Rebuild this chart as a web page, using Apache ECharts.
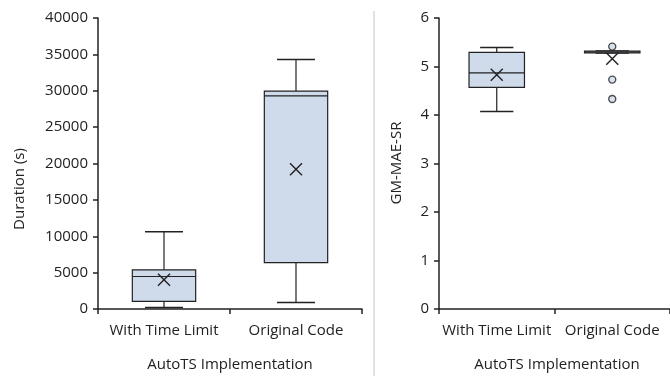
<!DOCTYPE html>
<html>
<head>
<meta charset="utf-8">
<script src="https://cdn.jsdelivr.net/npm/echarts@6/dist/echarts.min.js"></script>
<style>
  html, body { margin: 0; padding: 0; background: #fff; }
  #chart { width: 670px; height: 376px; }
</style>
</head>
<body>
<div id="chart"></div>
<script>
const categories = ['With Time Limit', 'Original Code']

// [min, Q1, median, Q3, max, mean] per category
const durationBoxes = [
  [220, 1040, 4470, 5380, 10630, 4010],
  [900, 6380, 29300, 29950, 34300, 19220]
]
const durationOutliers = [[], []]

const errorBoxes = [
  [4.07, 4.57, 4.87, 5.29, 5.39, 4.83],
  [5.28, 5.28, 5.30, 5.32, 5.32, 5.16]
]
const errorOutliers = [[], [5.41, 4.73, 4.33]]

const durationTicks = { min: 0, max: 40000, interval: 5000 }
const errorTicks = { min: 0, max: 6, interval: 1 }

const font = 'Open Sans'
const ink = '#222'
const boxFill = '#cfdbeb'

const chart = echarts.init(document.getElementById('chart'))

const boxItems = (boxes) => boxes.map((b, i) => [i].concat(b))
const outlierItems = (outs) => {
  const res = []
  outs.forEach((vals, i) => vals.forEach(v => res.push([i, v])))
  return res
}

// draws box, whiskers, median and mean marker through the axis scales
const renderBox = (params, api) => {
  const x = api.value(0)
  const vMin = api.coord([x, api.value(1)])
  const vQ1 = api.coord([x, api.value(2)])
  const vMed = api.coord([x, api.value(3)])
  const vQ3 = api.coord([x, api.value(4)])
  const vMax = api.coord([x, api.value(5)])
  const vMean = api.coord([x, api.value(6)])
  const band = api.size([1, 0])[0]
  const w = band * 0.48
  const cap = w * 0.3
  const cx = vMed[0]
  const line = (x1, y1, x2, y2, lw) => ({
    type: 'line',
    shape: { x1, y1, x2, y2 },
    style: { stroke: ink, lineWidth: lw || 1.2 }
  })
  const children = [
    line(cx, vMax[1], cx, vQ3[1]),
    line(cx - cap, vMax[1], cx + cap, vMax[1], 1.5),
    line(cx, vMin[1], cx, vQ1[1]),
    line(cx - cap, vMin[1], cx + cap, vMin[1], 1.5),
    {
      type: 'rect',
      shape: { x: cx - w / 2, y: vQ3[1], width: w, height: vQ1[1] - vQ3[1] },
      style: { fill: boxFill, stroke: ink, lineWidth: 1.2 }
    },
    line(cx - w / 2, vMed[1], cx + w / 2, vMed[1]),
    line(cx - 6, vMean[1] - 6, cx + 6, vMean[1] + 6, 1.4),
    line(cx - 6, vMean[1] + 6, cx + 6, vMean[1] - 6, 1.4)
  ]
  return { type: 'group', children }
}

const xAxisBase = (gridIndex) => ({
  type: 'category',
  gridIndex,
  data: categories,
  boundaryGap: true,
  axisLine: { lineStyle: { color: ink, width: 1.5 } },
  axisTick: { show: true, interval: 0, length: 5, lineStyle: { color: ink, width: 1.5 } },
  axisLabel: { interval: 0, hideOverlap: false, color: ink, fontFamily: font, fontSize: 15, margin: 14 },
  splitLine: { show: false }
})

const yAxisBase = (gridIndex, ticks) => ({
  type: 'value',
  gridIndex,
  min: ticks.min,
  max: ticks.max,
  interval: ticks.interval,
  axisLine: { show: true, lineStyle: { color: ink, width: 1.5 } },
  axisTick: { show: true, length: 5, lineStyle: { color: ink, width: 1.5 } },
  axisLabel: { color: ink, fontFamily: font, fontSize: 15, margin: 10, formatter: (v) => String(v) },
  splitLine: { show: false }
})

const titleStyle = { fill: ink, font: '15px "Open Sans"', textAlign: 'center', textVerticalAlign: 'middle' }

const option = {
  animation: false,
  grid: [
    { left: 98, top: 18, width: 264, height: 291 },
    { left: 439, top: 18, width: 234, height: 291 }
  ],
  xAxis: [xAxisBase(0), xAxisBase(1)],
  yAxis: [yAxisBase(0, durationTicks), yAxisBase(1, errorTicks)],
  series: [
    {
      type: 'custom',
      xAxisIndex: 0,
      yAxisIndex: 0,
      renderItem: renderBox,
      encode: { x: 0, y: [1, 2, 3, 4, 5, 6] },
      data: boxItems(durationBoxes)
    },
    {
      type: 'scatter',
      xAxisIndex: 0,
      yAxisIndex: 0,
      symbolSize: 6,
      itemStyle: { color: boxFill, borderColor: ink, borderWidth: 1.3 },
      data: outlierItems(durationOutliers)
    },
    {
      type: 'custom',
      xAxisIndex: 1,
      yAxisIndex: 1,
      renderItem: renderBox,
      encode: { x: 0, y: [1, 2, 3, 4, 5, 6] },
      data: boxItems(errorBoxes)
    },
    {
      type: 'scatter',
      xAxisIndex: 1,
      yAxisIndex: 1,
      symbolSize: 7,
      itemStyle: { color: boxFill, borderColor: ink, borderWidth: 1.4 },
      data: outlierItems(errorOutliers),
      z: 5
    }
  ],
  graphic: [
    {
      type: 'line',
      shape: { x1: 374, y1: 11, x2: 374, y2: 376 },
      style: { stroke: '#d9d9d9', lineWidth: 1.5 }
    },
    { type: 'text', x: 20, y: 189, rotation: Math.PI / 2, style: Object.assign({ text: 'Duration (s)' }, titleStyle) },
    { type: 'text', x: 397, y: 163, rotation: Math.PI / 2, style: Object.assign({ text: 'GM-MAE-SR' }, titleStyle) },
    { type: 'text', x: 230, y: 365, style: Object.assign({ text: 'AutoTS Implementation' }, titleStyle) },
    { type: 'text', x: 557, y: 365, style: Object.assign({ text: 'AutoTS Implementation' }, titleStyle) }
  ]
}

chart.setOption(option)
</script>
</body>
</html>
